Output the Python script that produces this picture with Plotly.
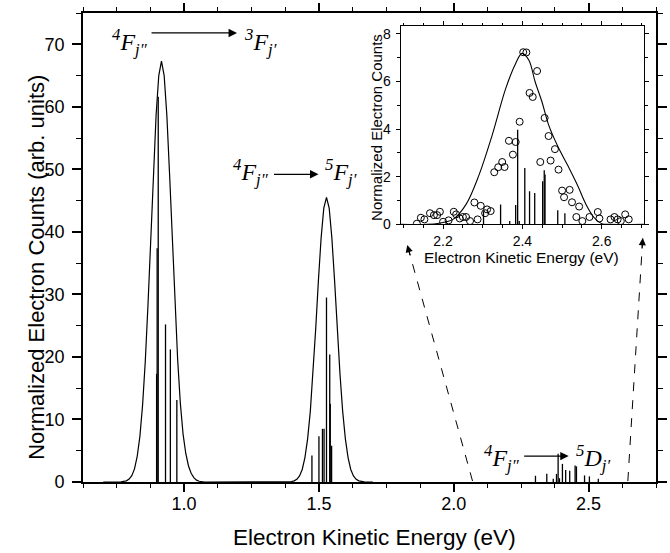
import plotly.graph_objects as go

# ---------------- data ----------------
# envelope curve of the main panel (two convolved bands)
env_x = [0.700, 0.766, 0.786, 0.796, 0.806, 0.816, 0.826, 0.836, 0.846, 0.856, 0.866,
         0.876, 0.886, 0.896, 0.906, 0.916, 0.926, 0.936, 0.946, 0.956, 0.966,
         0.976, 0.986, 0.996, 1.006, 1.016, 1.026, 1.036, 1.046, 1.056, 1.076,
         1.388, 1.398, 1.408, 1.418, 1.428, 1.438, 1.448, 1.458, 1.468, 1.478,
         1.488, 1.498, 1.508, 1.518, 1.528, 1.538, 1.548, 1.558, 1.568, 1.578,
         1.588, 1.598, 1.608, 1.618, 1.628, 1.638, 1.648, 1.658, 1.668, 1.700]
env_y = [0.0, 0.03, 0.19, 0.46, 1.0, 2.1, 4.1, 7.3, 12.3, 19.3, 28.3,
         38.7, 49.3, 58.6, 65.0, 67.3, 65.0, 58.6, 49.3, 38.7, 28.3,
         19.6, 12.6, 7.7, 4.6, 2.6, 1.4, 0.7, 0.3, 0.12, 0.0,
         0.02, 0.07, 0.18, 0.43, 0.96, 2.0, 3.9, 6.9, 11.3, 17.3,
         24.5, 32.2, 39.0, 43.8, 45.5, 43.8, 39.0, 32.2, 24.5, 17.3,
         11.3, 6.9, 3.9, 2.0, 0.96, 0.43, 0.18, 0.07, 0.02, 0.0]

# stick spectrum, main panel
stick_x = [0.898, 0.900, 0.904, 0.931, 0.949, 0.973,
           1.474, 1.500, 1.513, 1.519, 1.528, 1.540, 1.542, 1.547,
           2.303, 2.345, 2.369, 2.381, 2.387, 2.392, 2.403, 2.415, 2.430,
           2.450, 2.455, 2.485, 2.503, 2.536]
stick_y = [17.3, 37.4, 61.6, 25.2, 21.2, 13.1,
           4.25, 7.3, 8.5, 8.5, 29.5, 20.4, 12.5, 5.8,
           1.0, 1.3, 0.5, 1.3, 4.5, 0.6, 2.9, 1.9, 1.8,
           2.65, 2.5, 1.05, 0.9, 0.5]

# inset: simulated envelope
in_curve_x = [2.093, 2.160, 2.190, 2.225, 2.258, 2.291, 2.324, 2.358, 2.383, 2.399,
              2.416, 2.432, 2.449, 2.466, 2.490, 2.515, 2.540, 2.560, 2.580, 2.600,
              2.620, 2.707]
in_curve_y = [0.0, 0.0, 0.05, 0.21, 0.84, 2.09, 3.76, 5.71, 6.76, 7.18,
              6.90, 5.99, 5.16, 4.18, 3.25, 2.45, 1.6, 0.85, 0.3, 0.03,
              0.0, 0.0]

# inset: measured points (open circles)
in_pts_x = [2.134, 2.144, 2.153, 2.167, 2.177, 2.185, 2.192, 2.200, 2.214, 2.227,
            2.233, 2.242, 2.250, 2.258, 2.268, 2.279, 2.287, 2.295, 2.306, 2.311,
            2.320, 2.329, 2.339, 2.349, 2.355, 2.366, 2.376, 2.383, 2.393, 2.402,
            2.410, 2.418, 2.426, 2.437, 2.445, 2.456, 2.466, 2.471, 2.482, 2.491,
            2.500, 2.505, 2.519, 2.525, 2.536, 2.543, 2.551, 2.569, 2.590, 2.594,
            2.622, 2.632, 2.640, 2.648, 2.659, 2.668]
in_pts_y = [0.03, 0.28, 0.21, 0.47, 0.39, 0.39, 0.53, 0.11, 0.17, 0.53,
            0.42, 0.25, 0.31, 0.31, 0.14, 0.92, 0.21, 0.78, 0.47, 0.63,
            0.56, 2.19, 2.40, 2.62, 2.41, 3.51, 2.93, 3.46, 4.31, 7.23,
            7.22, 5.52, 5.35, 6.44, 2.62, 4.47, 3.71, 2.68, 3.16, 2.30,
            1.42, 1.14, 1.45, 0.93, 0.31, 0.75, 0.14, 0.31, 0.52, 0.25,
            0.21, 0.31, 0.21, 0.14, 0.42, 0.21]

# inset: sticks
in_stick_x = [2.302, 2.345, 2.368, 2.383, 2.388, 2.392, 2.406, 2.418, 2.431,
              2.451, 2.455, 2.457, 2.489, 2.507]
in_stick_y = [0.55, 0.84, 0.14, 0.81, 3.97, 0.14, 2.37, 1.39, 1.32,
              1.81, 2.27, 2.09, 0.59, 0.47]

main_x_ticks = [1.0, 1.5, 2.0, 2.5]
inset_x_ticks = [2.2, 2.4, 2.6]

# ---------------- helpers ----------------
W, H = 670, 553
L, R, T, B = 83, 3, 11, 71
PW, PH = W - L - R, H - T - B


def px(x):
    return (x - L) / PW


def py(y):
    return (H - B - y) / PH


def sticks(xs, ys):
    X, Y = [], []
    for a, b in zip(xs, ys):
        X += [a, a, None]
        Y += [0, b, None]
    return X, Y


SANS = "Liberation Sans, Arial, sans-serif"
SERIF = "Liberation Serif, Times New Roman, serif"

fig = go.Figure()
sx, sy = sticks(stick_x, stick_y)
fig.add_trace(go.Scatter(x=sx, y=sy, mode="lines", line=dict(color="black", width=1.3),
                         xaxis="x", yaxis="y", showlegend=False, hoverinfo="skip"))
fig.add_trace(go.Scatter(x=env_x, y=env_y, mode="lines", line=dict(color="black", width=1.2),
                         xaxis="x", yaxis="y", showlegend=False))

isx, isy = sticks(in_stick_x, in_stick_y)
fig.add_trace(go.Scatter(x=isx, y=isy, mode="lines", line=dict(color="black", width=1.3),
                         xaxis="x2", yaxis="y2", showlegend=False, hoverinfo="skip"))
fig.add_trace(go.Scatter(x=in_curve_x, y=in_curve_y, mode="lines", line_shape="spline",
                         line=dict(color="black", width=1.1),
                         xaxis="x2", yaxis="y2", showlegend=False))
fig.add_trace(go.Scatter(x=in_pts_x, y=in_pts_y, mode="markers",
                         marker=dict(symbol="circle-open", size=7, color="black",
                                     line=dict(width=1, color="black")),
                         xaxis="x2", yaxis="y2", showlegend=False))

axis_common = dict(showline=True, linecolor="black", mirror="allticks", showgrid=False,
                   zeroline=False, ticks="outside", tickcolor="black")

fig.update_layout(
    width=W, height=H, margin=dict(l=L, r=R, t=T, b=B),
    paper_bgcolor="white", plot_bgcolor="white",
    font=dict(family=SANS, color="black"),
    xaxis=dict(domain=[0, 1], range=[0.625, 2.75], tickvals=main_x_ticks,
               ticktext=[f"{v:.1f}" for v in main_x_ticks],
               ticklen=8, tickwidth=1.5, linewidth=1.6,
               minor=dict(tickmode="linear", tick0=0, dtick=0.125, ticklen=4, tickwidth=1.2,
                          ticks="outside", tickcolor="black"),
               tickfont=dict(size=18), ticklabelstandoff=-3, **axis_common),
    yaxis=dict(domain=[0, 1], range=[0, 75], tickmode="linear", tick0=0, dtick=10,
               ticklen=9, tickwidth=1.5, linewidth=1.6,
               minor=dict(tickmode="linear", tick0=0, dtick=5, ticklen=5, tickwidth=1.2,
                          ticks="outside", tickcolor="black"),
               tickfont=dict(size=18), ticklabelstandoff=4, **axis_common),
    xaxis2=dict(domain=[px(406.7), px(655)], anchor="y2", range=[2.093, 2.707],
                tickvals=inset_x_ticks, ticktext=[f"{v:.1f}" for v in inset_x_ticks],
                ticklen=4, tickwidth=1, linewidth=1.2,
                minor=dict(tickmode="linear", tick0=0, dtick=0.05, ticklen=2.5, tickwidth=1,
                           ticks="outside", tickcolor="black"),
                tickfont=dict(size=14), ticklabelstandoff=0, **axis_common),
    yaxis2=dict(domain=[py(223.3), py(24.3)], anchor="x2", range=[0, 8.32],
                tickmode="linear", tick0=0, dtick=2, ticklen=4, tickwidth=1, linewidth=1.2,
                minor=dict(tickmode="linear", tick0=0, dtick=1, ticklen=2.5, tickwidth=1,
                           ticks="outside", tickcolor="black"),
                tickfont=dict(size=14), ticklabelstandoff=2, **axis_common),
)

ann = []
# axis titles
ann.append(dict(text="Electron Kinetic Energy (eV)", x=px(380), y=py(538), xref="paper", yref="paper",
                showarrow=False, font=dict(size=22.5), xanchor="center", yanchor="middle"))
ann.append(dict(text="Normalized Electron Counts (arb. units)", x=px(36), y=py(266), xref="paper",
                yref="paper", showarrow=False, textangle=-90, font=dict(size=22),
                xanchor="center", yanchor="middle"))
ann.append(dict(text="Electron Kinetic Energy (eV)", x=px(530), y=py(257), xref="paper", yref="paper",
                showarrow=False, font=dict(size=15.5), xanchor="center", yanchor="middle"))
ann.append(dict(text="Normalized Electron Counts", x=px(382), y=py(126), xref="paper", yref="paper",
                showarrow=False, textangle=-90, font=dict(size=15), xanchor="center", yanchor="middle"))


def transition(lo, hi, x_left, x_arrow0, x_arrow1, x_right, y_text, y_arrow):
    f = dict(family=SERIF, size=24, color="black")
    ann.append(dict(text=lo, x=px(x_left), y=py(y_text), xref="paper", yref="paper",
                    showarrow=False, xanchor="right", yanchor="middle", font=f))
    ann.append(dict(text=hi, x=px(x_right), y=py(y_text), xref="paper", yref="paper",
                    showarrow=False, xanchor="left", yanchor="middle", font=f))
    ann.append(dict(text="", x=px(x_arrow1), y=py(y_arrow), xref="paper", yref="paper",
                    ax=-(x_arrow1 - x_arrow0), ay=0, showarrow=True, arrowhead=2,
                    arrowsize=1.3, arrowwidth=1.3, arrowcolor="black"))


low4F = "<i><sup>4</sup>F<sub>j\u2033</sub></i>"
transition(low4F, "<i><sup>3</sup>F<sub>j\u2032</sub></i>", 151, 153, 240, 245, 40, 31)
transition(low4F, "<i><sup>5</sup>F<sub>j\u2032</sub></i>", 275, 277, 323, 328, 171, 173)
transition(low4F, "<i><sup>5</sup>D<sub>j\u2032</sub></i>", 530, 532, 578, 583, 458, 456)

# dashed leader lines to the inset
shapes = []
for (x0, y0, x1, y1) in [(480, 481, 413.5, 244), (638.3, 481, 653.5, 237)]:
    shapes.append(dict(type="line", xref="paper", yref="paper", x0=px(x0), y0=py(y0),
                       x1=px(x1), y1=py(y1), line=dict(color="black", width=1, dash="dash")))
    dx, dy = x1 - x0, y1 - y0
    n = (dx * dx + dy * dy) ** 0.5
    ann.append(dict(text="", x=px(x1), y=py(y1), xref="paper", yref="paper",
                    ax=-dx / n * 12, ay=-dy / n * 12, showarrow=True, arrowhead=2,
                    arrowsize=1.2, arrowwidth=1.2, arrowcolor="black"))

fig.update_layout(annotations=ann, shapes=shapes)
fig.write_html("out.html")
